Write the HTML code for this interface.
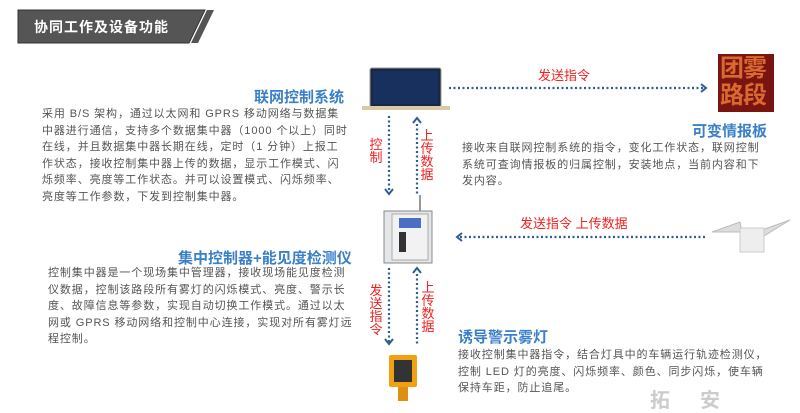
<!DOCTYPE html>
<html><head><meta charset="utf-8"><style>
body{margin:0;width:800px;height:407px;background:#fff;overflow:hidden;position:relative;font-family:"Liberation Sans","Noto Sans CJK SC",sans-serif}
.a{position:absolute}
.t{color:#3a80c8;font-weight:bold;font-size:15px;white-space:nowrap}
.p{color:#555;font-size:11px;line-height:16.5px;letter-spacing:0.9px;white-space:nowrap}
.r{color:#f02020;font-size:13px;white-space:nowrap}
.v{color:#f02020;font-size:13px;width:14px;line-height:13px;text-align:center}
</style></head><body>
<svg class="a" style="left:0;top:0" width="800" height="407">
<polygon points="18,10 205,10 189,43 18,43" fill="#555" stroke="#333" stroke-width="1"/>
<polygon points="207,10 214,10 198,43 191,43" fill="#555"/>
<g stroke="#2d5d95" stroke-width="2.2" stroke-dasharray="2,2.5" fill="none">
<line x1="449" y1="88" x2="705" y2="88"/>
<line x1="389" y1="116" x2="389" y2="193"/>
<line x1="417" y1="124" x2="417" y2="195"/>
<line x1="460" y1="237" x2="705" y2="237"/>
<line x1="389" y1="268" x2="389" y2="343"/>
<line x1="417" y1="274" x2="417" y2="345"/>
</g>
<g stroke="#2d5d95" stroke-width="2" fill="none">
<polyline points="701,84 706,88 701,92"/>
<polyline points="385,189 389,194 393,189"/>
<polyline points="413,123 417,118 421,123"/>
<polyline points="462,233 457,237 462,241"/>
<polyline points="385,339 389,344 393,339"/>
<polyline points="413,273 417,268 421,273"/>
</g>
<rect x="370" y="68" width="71" height="39" rx="2" fill="#1a2740" stroke="#999"/>
<rect x="373" y="71" width="65" height="33" fill="#17305e"/>
<rect x="362" y="106" width="88" height="4" fill="#d8c9a8"/>
<line x1="420" y1="195" x2="420" y2="212" stroke="#333"/>
<rect x="384" y="211" width="48" height="52" fill="#e4e6e8" stroke="#888"/>
<rect x="392" y="214" width="36" height="46" fill="#f2f2f2" stroke="#aaa"/>
<rect x="399" y="218" width="22" height="10" fill="#4b6fc4"/>
<rect x="399" y="232" width="7" height="20" fill="#333"/>
<rect x="718" y="54" width="56" height="58" fill="#7a1410"/>
<rect x="389" y="355" width="28" height="32" rx="2" fill="#f0a010"/>
<rect x="394" y="360" width="18" height="22" fill="#333"/>
<rect x="398" y="387" width="10" height="14" fill="#e09010"/>
<path d="M712,232 L740,222 L742,232 Z M790,220 L762,230 L764,236 Z" fill="#ddd" stroke="#bbb"/>
<rect x="740" y="228" width="24" height="24" fill="#eee" stroke="#ccc"/>
</svg>
<div class="a" style="left:34px;top:17px;color:#fff;font-weight:bold;font-size:14px;letter-spacing:1px">协同工作及设备功能</div>
<div class="a" style="left:720px;top:55px;width:56px;color:#d86a30;font-size:24px;line-height:27px;font-weight:bold;letter-spacing:-1px">团雾路段</div>
<div class="a t" style="left:254px;top:86px">联网控制系统</div>
<div class="a p" style="left:42px;top:106px">采用 B/S 架构，通过以太网和 GPRS 移动网络与数据集<br>中器进行通信，支持多个数据集中器（1000 个以上）同时<br>在线，并且数据集中器长期在线，定时（1 分钟）上报工<br>作状态，接收控制集中器上传的数据，显示工作模式、闪<br>烁频率、亮度等工作状态。并可以设置模式、闪烁频率、<br>亮度等工作参数，下发到控制集中器。</div>
<div class="a r" style="left:538px;top:65px">发送指令</div>
<div class="a t" style="left:692px;top:120px">可变情报板</div>
<div class="a p" style="left:462px;top:140px">接收来自联网控制系统的指令，变化工作状态，联网控制<br>系统可查询情报板的归属控制，安装地点，当前内容和下<br>发内容。</div>
<div class="a v" style="left:369px;top:138px">控制</div>
<div class="a v" style="left:420px;top:129px">上传数据</div>
<div class="a r" style="left:520px;top:213px">发送指令 上传数据</div>
<div class="a t" style="left:178px;top:247px">集中控制器+能见度检测仪</div>
<div class="a p" style="left:48px;top:265px">控制集中器是一个现场集中管理器，接收现场能见度检测<br>仪数据，控制该路段所有雾灯的闪烁模式、亮度、警示长<br>度、故障信息等参数，实现自动切换工作模式。通过以太<br>网或 GPRS 移动网络和控制中心连接，实现对所有雾灯远<br>程控制。</div>
<div class="a v" style="left:369px;top:284px">发送指令</div>
<div class="a v" style="left:421px;top:281px">上传数据</div>
<div class="a t" style="left:458px;top:326px">诱导警示雾灯</div>
<div class="a p" style="left:458px;top:347px">接收控制集中器指令，结合灯具中的车辆运行轨迹检测仪，<br>控制 LED 灯的亮度、闪烁频率、颜色、同步闪烁，使车辆<br>保持车距，防止追尾。</div>
<div class="a" style="left:650px;top:384px;color:#ccc;font-size:20px;font-weight:bold;letter-spacing:30px">拓安</div>
</body></html>
